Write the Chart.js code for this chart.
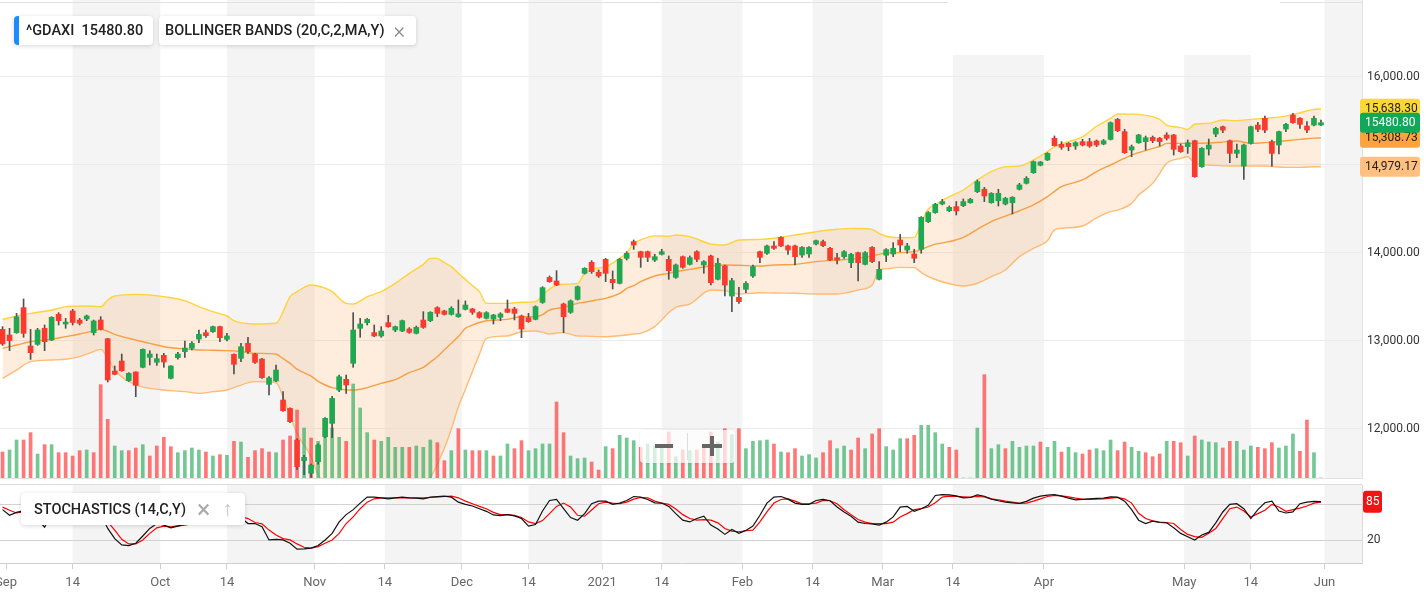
<!DOCTYPE html>
<html lang="en">
<head>
<meta charset="UTF-8" />
<title>^GDAXI with Bollinger Bands and Stochastics</title>
<style>
  body { margin: 0; background: #fff; font-family: Roboto, "Noto Sans", sans-serif; }
  #wrap { position: relative; width: 1427px; height: 594px; overflow: hidden; }
  canvas { position: absolute; left: 0; }
  #main { top: 0; }
  #stoch { top: 480px; }
  .box {
    position: absolute; background: #fff; border-radius: 4px;
    box-shadow: 0 1px 4px rgba(0, 0, 0, 0.16);
    color: #222; font-size: 14.5px; font-weight: 500; white-space: nowrap;
    display: flex; align-items: center; box-sizing: border-box;
  }
  .x { color: #888; font-size: 22px; font-weight: 300; margin-left: 9px; }
  #patch { position: absolute; left: 948px; top: 0; width: 332px; height: 55px; background: #fff; }
  #zoomer {
    position: absolute; left: 640px; top: 430px; width: 95px; height: 33px;
    background: rgba(255, 255, 255, 0.72); border-radius: 4px;
    box-shadow: 0 0 3px rgba(0, 0, 0, 0.08);
  }
  #zoomer div { position: absolute; background: #666; }
</style>
</head>
<body>
<div id="wrap">
  <canvas id="main" width="1427" height="480"></canvas>
  <canvas id="stoch" width="1427" height="114"></canvas>
  <div id="patch"></div>

  <div class="box" style="left:14px;top:16px;width:139px;height:29px;padding-left:12px;overflow:hidden">
    <span style="position:absolute;left:0;top:0;width:5px;height:29px;background:#1a8cff"></span>
    ^GDAXI&nbsp;&nbsp;15480.80
  </div>
  <div class="box" style="left:159px;top:16px;width:257px;height:29px;padding-left:6px">
    BOLLINGER BANDS (20,C,2,MA,Y)<span class="x">×</span>
  </div>
  <div class="box" style="left:21px;top:493px;width:224px;height:32px;padding-left:13px">
    STOCHASTICS (14,C,Y)<span class="x" style="margin-left:11px;color:#aaa;font-size:25px;font-weight:400">×</span><span style="color:#c4c4c4;font-size:21px;font-weight:300;margin-left:12px">↑</span>
  </div>

  <div id="zoomer">
    <div style="left:15px;top:14px;width:18px;height:4px"></div>
    <div style="left:47px;top:3px;width:1px;height:27px;background:#ddd"></div>
    <div style="left:62px;top:14px;width:20px;height:4px"></div>
    <div style="left:70px;top:6px;width:4px;height:20px"></div>
  </div>
</div>

<script src="https://cdn.jsdelivr.net/npm/chart.js"></script>
<script>
  // trading days of the index, Aug 31 2020 .. May 31 2021
  const holidays = ["2020-12-24", "2020-12-25", "2020-12-31", "2021-01-01", "2021-04-02", "2021-04-05", "2021-05-24"];
  const days = [];
  for (let t = Date.UTC(2020, 7, 31); t <= Date.UTC(2021, 4, 31); t += 864e5) {
    const d = new Date(t);
    const s = d.toISOString().slice(0, 10);
    if (d.getUTCDay() % 6 !== 0 && !holidays.includes(s)) days.push(s);
  }

  const open = [13132,13068,13094,13379,12943,12962,13144,13011,13303,13193,13341,13238,13250,13095,13238,13026,12659,12773,12549,12648,
    12701,12814,12758,12837,12576,12810,12879,12917,13022,13094,13106,13163,13019,12848,12803,12973,12852,12795,12507,12545,
    12329,12234,11875,11640,11496,11628,11912,12064,12443,12564,12746,13144,13208,13095,13057,13208,13125,13113,13136,13087,
    13238,13231,13379,13341,13303,13276,13360,13364,13322,13258,13250,13269,13364,13364,13284,13265,13246,13439,13723,13682,
    13420,13326,13473,13769,13894,13780,13928,13701,13655,13939,14129,14015,14015,13920,13985,13928,13723,13958,13871,14015,
    13864,13966,13701,13852,13511,13496,13587,13739,14015,13996,14080,14178,14080,14080,13977,13989,14102,14129,14053,13947,
    13958,13890,14004,13871,14064,13701,13975,13989,14148,14034,13989,14042,14356,14459,14557,14481,14527,14538,14572,14697,
    14724,14572,14595,14557,14572,14724,14792,14913,14997,15057,15303,15235,15246,15216,15265,15265,15273,15238,15291,15519,
    15379,15170,15253,15265,15314,15303,15341,15341,15216,15208,15276,14981,15181,15352,15435,15276,15132,14988,15246,15454,
    15530,15265,15227,15409,15568,15530,15443,15454,15454];
  const high = [13163,13144,13314,13477,13132,13144,13182,13276,13322,13257,13360,13257,13295,13238,13276,13030,12716,12852,12640,12650,
    12910,12890,12852,12860,12720,12870,12999,12992,13125,13125,13170,13170,13087,12855,12973,13042,12860,12803,12595,12727,
    12424,12240,11890,11700,11600,11830,12130,12370,12614,12614,13322,13257,13257,13182,13163,13291,13170,13238,13151,13170,
    13333,13333,13390,13350,13390,13466,13455,13371,13333,13333,13303,13322,13466,13383,13295,13314,13400,13617,13739,13799,
    13430,13466,13625,13833,13913,13807,13939,13796,13939,14015,14148,14020,14022,13985,14042,13966,13875,13966,13966,14026,
    13913,13977,13939,13864,13712,13610,13674,13864,14022,14091,14129,14186,14091,14091,14072,14072,14148,14148,14064,13996,
    14026,13996,14010,14015,14072,13902,14050,14118,14212,14110,14042,14413,14470,14565,14610,14534,14584,14614,14621,14830,
    14746,14686,14724,14633,14640,14792,14868,15046,15040,15140,15330,15265,15254,15265,15292,15303,15284,15290,15490,15530,
    15405,15227,15348,15329,15329,15314,15367,15348,15238,15284,15282,15197,15295,15428,15443,15284,15238,15238,15443,15485,
    15557,15284,15386,15473,15587,15538,15492,15557,15511];
  const low = [12950,12890,13087,13042,12791,12951,12890,13004,13182,13144,13182,13182,13231,13068,13125,12534,12615,12655,12540,12367,
    12695,12727,12723,12701,12570,12792,12814,12898,12981,13041,13098,12992,13000,12625,12765,12860,12746,12576,12386,12538,
    12200,12072,11540,11480,11450,11600,11900,11900,12424,12405,12701,13042,13182,13049,13042,13155,13106,13106,13087,13080,
    13144,13220,13276,13295,13295,13269,13352,13303,13258,13250,13193,13231,13322,13239,13038,13212,13240,13428,13667,13629,
    13095,13314,13465,13761,13769,13723,13674,13591,13648,13920,14042,13837,13902,13902,13977,13701,13712,13826,13864,13902,
    13769,13636,13693,13511,13333,13428,13549,13723,13890,13985,14042,14072,13985,13864,13951,13951,14091,14072,13913,13875,
    13939,13833,13682,13864,13890,13693,13902,13959,14015,13997,13890,13997,14345,14451,14546,14470,14432,14527,14565,14686,
    14583,14565,14534,14546,14443,14716,14784,14905,14990,15050,15216,15178,15163,15178,15216,15201,15209,15230,15284,15379,
    15132,15094,15246,15170,15253,15216,15284,15113,15144,15132,14860,14973,15113,15322,15367,15026,15083,14837,15238,15378,
    15367,14988,15125,15379,15473,15416,15367,15443,15447];
  const close = [12966,13004,13276,13087,12867,13125,12992,13269,13231,13215,13210,13201,13284,13227,13132,12557,12621,12663,12632,12496,
    12905,12852,12799,12761,12716,12852,12920,12973,13076,13060,13163,13038,13057,12735,12935,12879,12757,12583,12580,12670,
    12208,12083,11572,11678,11590,11818,12121,12348,12594,12500,13125,13193,13246,13057,13113,13163,13163,13231,13098,13155,
    13155,13326,13314,13303,13371,13307,13409,13326,13269,13322,13295,13307,13326,13314,13136,13220,13390,13606,13674,13636,
    13276,13455,13617,13826,13788,13739,13769,13663,13928,13996,14091,13951,13951,13958,14015,13799,13864,13837,13947,13928,
    13902,13663,13883,13636,13686,13447,13655,13845,13951,14080,14053,14080,14034,13958,14064,14064,14140,14083,13920,13920,
    14015,13985,13890,14004,13902,13814,14038,14053,14091,14080,13940,14406,14459,14553,14584,14519,14478,14584,14610,14811,
    14648,14678,14678,14621,14633,14773,14849,15038,15034,15133,15220,15201,15209,15254,15227,15216,15227,15276,15481,15390,
    15140,15208,15341,15310,15276,15265,15303,15178,15151,15253,14867,15189,15227,15416,15397,15132,15170,15227,15435,15405,
    15397,15132,15379,15462,15481,15462,15397,15530,15480.8];
  // volume, millions
  const volume = [39,42,57,57,68,36,50,50,38,38,33,41,42,38,140,88,48,41,41,45,
    50,33,48,61,47,38,41,45,42,39,33,35,34,55,54,31,41,44,39,38,
    57,63,102,75,60,55,61,75,61,55,141,105,68,57,55,61,46,46,46,48,
    46,57,53,26,41,74,42,41,41,41,33,33,51,44,56,41,44,51,51,114,
    68,33,29,30,24,12,47,44,64,60,56,46,51,48,46,69,32,42,41,42,
    50,69,54,74,65,74,44,55,56,57,51,39,38,44,33,35,30,38,56,44,
    48,42,60,44,66,74,47,42,59,59,64,79,79,68,51,46,42,0,0,75,
    155,44,50,44,55,46,48,48,54,46,55,39,46,38,36,42,44,41,57,41,
    54,46,40,38,32,36,55,55,53,33,63,57,54,53,45,55,55,42,48,46,
    44,53,45,48,66,40,87,38,0];

  // Bollinger bands (20, 2) read at these trading-day numbers
  const bandAt = [0,2,4,7,9,11,13,14,15,16,19,21,23,26,28,30,32,33,36,39,40,41,42,44,45,46,47,49,50,52,54,56,58,60,61,62,63,64,65,66,
    67,68,69,72,74,76,77,78,79,80,82,83,85,86,88,89,90,91,93,95,96,98,101,103,105,108,110,113,116,119,121,122,124,125,126,128,130,131,132,133,
    135,137,139,141,143,145,147,149,150,151,154,156,158,159,161,162,164,165,166,168,169,170,172,174,176,178,180,183,185,187,188];
  const bbUpper = [13246,13284,13314,13352,13390,13398,13395,13390,13466,13511,13530,13523,13504,13458,13390,13333,13284,13231,13193,13201,
    13333,13504,13561,13636,13625,13600,13561,13428,13420,13504,13561,13655,13769,13870,13939,13939,13890,13845,13769,13700,
    13630,13561,13428,13428,13440,13447,13523,13590,13636,13645,13655,13769,13830,13845,13939,14000,14110,14150,14195,14190,
    14205,14186,14102,14091,14148,14155,14167,14205,14242,14269,14280,14278,14269,14223,14190,14174,14178,14337,14500,14546,
    14640,14716,14830,14925,14981,14989,15057,15152,15209,15240,15322,15440,15530,15579,15578,15575,15549,15520,15454,15424,
    15405,15466,15473,15511,15504,15519,15530,15556,15594,15632,15638.30];
  const bbMiddle = [12916,12954,12992,13019,13049,13080,13115,13132,13110,13076,13011,12973,12935,12909,12898,12895,12890,12888,12860,12850,
    12800,12746,12680,12600,12540,12500,12470,12445,12443,12470,12519,12560,12640,12700,12760,12822,12900,12973,13050,13144,
    13180,13210,13230,13246,13276,13276,13300,13352,13370,13383,13428,13440,13470,13485,13540,13598,13630,13674,13739,13769,
    13788,13814,13852,13864,13860,13852,13864,13871,13902,13920,13930,13939,13966,13985,14000,14004,14015,14040,14072,14100,
    14129,14178,14269,14356,14420,14480,14546,14640,14700,14754,14830,14925,15000,15038,15113,15140,15189,15210,15246,15246,
    15246,15246,15250,15260,15272,15246,15254,15276,15291,15305,15308.73];
  const bbLower = [12576,12670,12765,12784,12792,12822,12880,12905,12803,12670,12500,12462,12443,12424,12405,12424,12443,12470,12538,12526,
    12367,12150,11950,11685,11480,11380,11330,11350,11330,11340,11380,11380,11380,11400,11450,11600,11780,12000,12250,12450,
    12650,12850,13030,13057,13106,13114,13100,13080,13090,13095,13057,13055,13050,13049,13060,13068,13080,13087,13163,13320,
    13383,13420,13580,13572,13534,13549,13545,13542,13534,13534,13560,13580,13636,13807,13820,13837,13834,13780,13731,13700,
    13650,13625,13656,13731,13807,13959,14053,14140,14262,14281,14307,14400,14470,14488,14564,14659,14791,14905,15019,15076,
    15094,15019,15000,14990,14988,14988,14988,14973,14973,14980,14979.17];

  // Stochastics (14): %K black, %D red
  const stochK = [71.7,62.2,67.2,70,50,55,42,65,72,75,78,80,85,82,65,40,22.8,12.2,11.1,15,
    27.2,40,48.3,45.6,41,44,47,55,70,78,85,70,72,50,58,48.3,48.3,42.8,20.6,21.7,
    20.6,15,5,5.6,6.7,11.1,20.6,31.7,51,63.3,71.7,82.8,92.8,92.8,91.7,90,91.7,92.8,91.7,91,
    90,92.8,93.9,94.4,92.8,84.4,80.6,77.8,73.3,68.9,62.8,61.7,63.3,61.1,56.7,43.9,46.7,69.4,87.2,88.9,
    73.3,58.3,53.9,65,81.7,86.1,86.1,80.6,82.8,87.2,93.9,92.8,88.9,83.3,82.8,77.2,65,53.9,51,56.7,
    60.6,45.6,38.9,30,38.3,31.7,36.7,43.9,62.2,82.8,92.8,93.9,89.4,82.8,80.6,80.6,87.2,88.9,86.7,76.1,
    67.8,60.6,50.6,48.3,47.8,45.6,50.6,59.4,76.1,77.2,68.9,73.3,78.9,95.6,97.2,96.7,95,91.7,92.2,96.7,
    94.4,89.4,86.7,84.4,83.3,82.2,85.6,91.1,94.4,96.1,97.2,94.4,91.1,88.3,88.9,90,90.6,91.1,93.3,92.8,
    86.1,71.7,53.9,48.3,52.2,50,49.4,41.1,31.7,26.1,20.6,28.9,33.3,49.4,67.8,80.6,81.7,73.3,56.7,71.7,
    83.3,86.1,69.4,66.1,67.8,81.7,84.4,85.6,85.2];
  const stochD = [76,70.6,66.1,68,62,55,50,55,60,70,75,78,81,82,65,51,37,21.7,13.9,13.9,
    20.6,31.7,41,44,42.8,44.4,45.6,48,55,65,75,78,75,64,60,56.7,50,47.8,37.2,28.9,
    22.8,20.6,13.9,8.3,6.7,9.4,15,20.6,31.7,48.3,59.4,73.3,84.4,90,91.7,91.7,91.7,91.7,91.7,91.7,
    91.7,92.2,92.8,93.9,94.4,91.7,86.1,81.7,77.2,73.3,67.2,63.3,63.3,62.2,58.3,51,48.3,53.3,65,77.2,
    82.8,76.1,62.2,60.6,71.1,81.7,84.4,82.8,81.7,84.4,89.4,92.2,91.7,86.1,82.8,80.6,72.8,63.3,56.7,53.9,
    55,53.9,49.4,40,35.6,34.4,36.1,37.2,51,67.8,82.8,88.9,90,86.1,81.7,81.7,82.8,87.2,86.7,81.7,
    71.7,63.3,55,50.6,48.3,48.3,48.3,50.6,59.4,65,71.7,73.3,76.1,83.3,92.8,94.4,93.9,93.3,92.8,93.9,
    93.3,90,88.3,86.1,84.4,82.2,82.8,86.1,90,93.9,95.6,95,93.3,91.1,89.4,88.9,89.4,90,91.1,92.2,
    90,82.8,65.6,56.7,52.8,50.6,50,48.3,38.3,30,26.1,25,31.7,40,56.7,73.3,76.1,69.4,59.4,65,
    70.6,80.6,76.1,68.9,71.7,74.4,77.8,82.8,84.5];

  const priceTicks = [12000, 13000, 14000, 15000, 16000];
  const stochTicks = [20, 80];
  const tickDates = ["2020-09-01", "2020-09-14", "2020-10-01", "2020-10-14", "2020-11-01", "2020-11-14", "2020-12-01",
    "2020-12-14", "2021-01-01", "2021-01-14", "2021-02-01", "2021-02-14", "2021-03-01", "2021-03-14", "2021-04-01",
    "2021-05-01", "2021-05-14", "2021-06-01"];
  const tickLabels = ["Sep", "14", "Oct", "14", "Nov", "14", "Dec", "14", "2021", "14", "Feb", "14", "Mar", "14", "Apr", "May", "14", "Jun"];

  // a tick sits on its trading day, or between sessions if the date itself is not one
  const tickPos = tickDates.map((s, k) => {
    let idx = days.findIndex((d) => d >= s);
    if (idx < 0) idx = days.length;
    return days[idx] === s && tickLabels[k] === "14" ? idx : idx - 0.5;
  });

  const X_MIN = -0.36, X_MAX = 193.85;
  const GREEN = "#1fa84f", RED = "#fb3a2e";
  const fmt = (v) => v.toLocaleString("en-US", { minimumFractionDigits: 2, maximumFractionDigits: 2 });
  const last = (a) => a[a.length - 1];
  const noPad = (s) => { s.paddingTop = 0; s.paddingBottom = 0; s.paddingLeft = 0; s.paddingRight = 0; };

  const shade = {
    id: "shade",
    beforeDraw(chart) {
      const { ctx, chartArea: a, scales: { x } } = chart;
      ctx.save();
      ctx.fillStyle = "#f4f4f4";
      for (let k = 1; k < tickPos.length; k += 2) {
        const x0 = x.getPixelForValue(tickPos[k]);
        const x1 = k + 1 < tickPos.length ? x.getPixelForValue(tickPos[k + 1]) : a.right;
        ctx.fillRect(x0, a.top, Math.min(x1, a.right) - x0, a.bottom - a.top);
      }
      ctx.restore();
    },
  };

  function roundRect(ctx, x, y, w, h, r) {
    ctx.beginPath();
    ctx.moveTo(x + r, y);
    ctx.arcTo(x + w, y, x + w, y + h, r);
    ctx.arcTo(x + w, y + h, x, y + h, r);
    ctx.arcTo(x, y + h, x, y, r);
    ctx.arcTo(x, y, x + w, y, r);
    ctx.closePath();
    ctx.fill();
  }

  const mainFrame = {
    id: "mainFrame",
    afterDraw(chart) {
      const { ctx, chartArea: a, scales: { y } } = chart;
      ctx.save();
      ctx.strokeStyle = "#e2e2e2";
      ctx.lineWidth = 1;
      ctx.beginPath();
      ctx.moveTo(0, 2.5); ctx.lineTo(a.right, 2.5);
      ctx.moveTo(0, a.bottom + 0.5); ctx.lineTo(a.right, a.bottom + 0.5);
      ctx.stroke();
      const badges = [
        { v: last(bbUpper), bg: "#fdd835", fg: "#222", t: fmt(last(bbUpper)) },
        { v: last(bbMiddle), bg: "#ffa33f", fg: "#222", t: fmt(last(bbMiddle)) },
        { v: last(bbLower), bg: "#ffc080", fg: "#222", t: fmt(last(bbLower)) },
        { v: last(close), bg: "#12a85a", fg: "#fff", t: last(close).toFixed(2) },
      ];
      ctx.font = "12px Roboto, sans-serif";
      ctx.textBaseline = "middle";
      badges.forEach((b) => {
        const yc = y.getPixelForValue(b.v);
        ctx.fillStyle = b.bg;
        roundRect(ctx, a.right - 2, yc - 10, 60, 20, 3);
        ctx.fillStyle = b.fg;
        ctx.fillText(b.t, a.right + 3, yc + 0.5);
      });
      ctx.restore();
    },
  };

  const bandPts = (arr) => bandAt.map((d, k) => ({ x: d, y: arr[k] }));
  const candleColor = close.map((c, i) => (c >= open[i] ? GREEN : RED));
  const volColor = volume.map((v, i) =>
    (i ? close[i] >= close[i - 1] : close[i] >= open[i]) ? "rgba(40,170,90,0.65)" : "rgba(255,55,55,0.68)"
  );

  new Chart(document.getElementById("main"), {
    type: "bar",
    data: {
      datasets: [
        { label: "body", data: open.map((o, i) => ({ x: i, y: [o, close[i]] })), backgroundColor: candleColor,
          barThickness: 5, grouped: false, yAxisID: "y", order: 0 },
        { label: "wick", data: low.map((l, i) => ({ x: i, y: [l, high[i]] })), backgroundColor: "#505050",
          barThickness: 1, grouped: false, yAxisID: "y", order: 1 },
        { label: "volume", data: volume.map((v, i) => ({ x: i, y: v })), backgroundColor: volColor,
          barThickness: 3, grouped: false, yAxisID: "yv", order: 2 },
        { type: "line", label: "upper", data: bandPts(bbUpper), borderColor: "#ffd43b", borderWidth: 1.4,
          backgroundColor: "rgba(250,160,80,0.2)", fill: "+2", pointRadius: 0,
          cubicInterpolationMode: "monotone", yAxisID: "y", order: 5 },
        { type: "line", label: "middle", data: bandPts(bbMiddle), borderColor: "#f7a043", borderWidth: 1.4,
          fill: false, pointRadius: 0, cubicInterpolationMode: "monotone", yAxisID: "y", order: 4 },
        { type: "line", label: "lower", data: bandPts(bbLower), borderColor: "#ffbb73", borderWidth: 1.4,
          fill: false, pointRadius: 0, cubicInterpolationMode: "monotone", yAxisID: "y", order: 4 },
      ],
    },
    options: {
      responsive: false,
      animation: false,
      devicePixelRatio: 1,
      layout: { padding: { top: 0, bottom: 2, left: 0, right: 0 } },
      plugins: { legend: { display: false }, tooltip: { enabled: false } },
      scales: {
        x: { type: "linear", min: X_MIN, max: X_MAX, offset: false, display: false },
        y: {
          position: "right",
          min: 11443,
          max: 16875,
          afterBuildTicks: (s) => { s.ticks = priceTicks.map((v) => ({ value: v })); },
          afterFit: (s) => { s.width = 65; noPad(s); },
          grid: { color: "#ebebeb", drawTicks: false },
          border: { display: true, color: "#e2e2e2" },
          ticks: { padding: 5, color: "#333", font: { size: 12, family: "Roboto" }, callback: (v) => fmt(v) },
        },
        yv: { display: false, min: 0, max: 717 },
      },
    },
    plugins: [shade, mainFrame],
  });

  const stochFrame = {
    id: "stochFrame",
    afterDraw(chart) {
      const { ctx, chartArea: a, scales: { y } } = chart;
      ctx.save();
      ctx.strokeStyle = "#dcdcdc";
      ctx.beginPath();
      ctx.moveTo(0, a.top - 0.5); ctx.lineTo(a.right, a.top - 0.5);
      ctx.stroke();
      const yc = y.getPixelForValue(last(stochK));
      ctx.fillStyle = "#f01414";
      roundRect(ctx, a.right + 1, yc - 11, 19, 22, 3);
      ctx.fillStyle = "#fff";
      ctx.font = "12px Roboto, sans-serif";
      ctx.textBaseline = "middle";
      ctx.fillText(Math.round(last(stochK)), a.right + 4, yc + 0.5);
      ctx.restore();
    },
  };

  new Chart(document.getElementById("stoch"), {
    type: "line",
    data: {
      datasets: [
        { label: "%K", data: stochK.map((v, i) => ({ x: i, y: v })), borderColor: "#111", borderWidth: 1.2,
          pointRadius: 0, tension: 0, order: 0 },
        { label: "%D", data: stochD.map((v, i) => ({ x: i, y: v })), borderColor: "#f00", borderWidth: 1.2,
          pointRadius: 0, tension: 0, order: 1 },
      ],
    },
    options: {
      responsive: false,
      animation: false,
      devicePixelRatio: 1,
      layout: { padding: { top: 5, bottom: 0, left: 0, right: 0 } },
      plugins: { legend: { display: false }, tooltip: { enabled: false } },
      scales: {
        x: {
          type: "linear",
          min: X_MIN,
          max: X_MAX,
          offset: false,
          afterBuildTicks: (s) => { s.ticks = tickPos.map((v) => ({ value: v })); },
          afterFit: (s) => { s.height = 31; noPad(s); },
          grid: { drawOnChartArea: false, drawTicks: true, tickLength: 6, color: "#cfcfcf" },
          border: { display: true, color: "#cfcfcf" },
          ticks: { autoSkip: false, maxRotation: 0, padding: 6, color: "#666",
            font: { size: 13, family: "Roboto" }, callback: (v, k) => tickLabels[k] },
        },
        y: {
          position: "right",
          min: -18.3,
          max: 113.3,
          afterBuildTicks: (s) => { s.ticks = stochTicks.map((v) => ({ value: v })); },
          afterFit: (s) => { s.width = 65; noPad(s); },
          grid: { color: "#d2d2d2", drawTicks: false },
          border: { display: true, color: "#dcdcdc" },
          ticks: { padding: 5, color: "#333", font: { size: 12, family: "Roboto" } },
        },
      },
    },
    plugins: [shade, stochFrame],
  });
</script>
</body>
</html>
